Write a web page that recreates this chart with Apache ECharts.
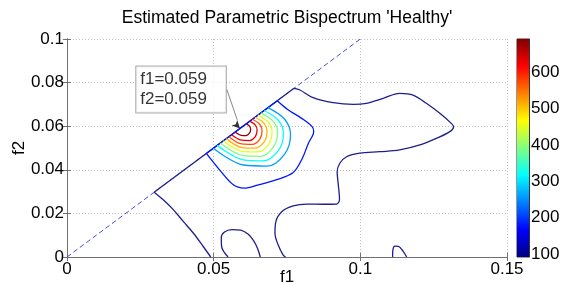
<!DOCTYPE html>
<html>
<head>
<meta charset="utf-8">
<script src="https://cdn.jsdelivr.net/npm/echarts@6/dist/echarts.min.js"></script>
<style>
  html, body { margin: 0; padding: 0; background: #fff; }
  #chart { width: 562px; height: 284px; }
</style>
</head>
<body>
<div id="chart"></div>
<script>
// axis ranges / ticks
const f1Range = [0, 0.15];
const f2Range = [0, 0.1];
const colorbarRange = [92, 692];
const colorbarTicks = [100, 200, 300, 400, 500, 600];

// peak marker
const peakF1 = 0.059;
const peakF2 = 0.059;

// diagonal f1 = f2
const diagLine = [[0, 0], [0.1, 0.1]];

// contour levels (outer -> inner)
const contourLevels = [100, 180, 260, 320, 390, 450, 510, 570, 630, 680];

// level 100 (navy)
const navyLeft = [[0.0297, 0.0297], [0.0329, 0.0261], [0.0363, 0.0216], [0.0397, 0.0162], [0.0431, 0.0109], [0.0465, 0.0047], [0.0490, 0]];
const navyDiag = [[0.0297, 0.0297], [0.0774, 0.0774]];
const navyRight = [
  [0.0774, 0.0774], [0.0794, 0.0766], [0.0839, 0.0731], [0.0907, 0.0708], [0.0976, 0.0700], [0.1021, 0.0705],
  [0.1078, 0.0728], [0.1134, 0.0751], [0.1180, 0.0743], [0.1225, 0.0705], [0.1271, 0.0659], [0.1310, 0.0613],
  [0.1318, 0.0598], [0.1305, 0.0575], [0.1259, 0.0544], [0.1203, 0.0514], [0.1134, 0.0491], [0.1066, 0.0483],
  [0.0998, 0.0476], [0.0953, 0.0460], [0.0930, 0.0430], [0.0921, 0.0391], [0.0925, 0.0330], [0.0929, 0.0265],
  [0.0919, 0.0243], [0.0873, 0.0242], [0.0817, 0.0243], [0.0771, 0.0234], [0.0732, 0.0208], [0.0712, 0.0162],
  [0.0709, 0.0109], [0.0720, 0.0055], [0.0737, 0.0009], [0.0745, 0]
];
const navyLoopA = [[0.0549, 0], [0.0527, 0.0049], [0.0526, 0.0090], [0.0537, 0.0115], [0.0562, 0.0126], [0.0592, 0.0123], [0.0617, 0.0105], [0.0636, 0.0075], [0.0650, 0.0038], [0.0659, 0]];
const navyLoopB = [[0.1110, 0], [0.1111, 0.0032], [0.1118, 0.0050], [0.1130, 0.0049], [0.1146, 0.0026], [0.1158, 0]];

// level 180 (blue)
const blueRing = [
  [0.0717, 0.0717], [0.0752, 0.0677], [0.0800, 0.0636], [0.0835, 0.0599], [0.0841, 0.0576], [0.0823, 0.0522],
  [0.0800, 0.0446], [0.0770, 0.0386], [0.0715, 0.0355], [0.0652, 0.0331], [0.0604, 0.0316], [0.0567, 0.0331],
  [0.0520, 0.0400], [0.0475, 0.0475]
];
const blueDiag = [[0.0475, 0.0475], [0.0717, 0.0717]];

// inner rings around the peak
const ring260 = [[0.0685, 0.0685], [0.0742, 0.0632], [0.0762, 0.0562], [0.0742, 0.0472], [0.0682, 0.0417], [0.0602, 0.0422], [0.0499, 0.0499]];
const ring320 = [[0.0672, 0.0672], [0.0721, 0.0626], [0.0738, 0.0566], [0.0721, 0.0489], [0.0669, 0.0441], [0.0601, 0.0446], [0.0512, 0.0512]];
const ring390 = [[0.0661, 0.0661], [0.0703, 0.0622], [0.0718, 0.0570], [0.0703, 0.0503], [0.0659, 0.0462], [0.0599, 0.0466], [0.0523, 0.0523]];
const ring450 = [[0.0651, 0.0651], [0.0687, 0.0617], [0.0699, 0.0573], [0.0687, 0.0516], [0.0649, 0.0482], [0.0598, 0.0485], [0.0533, 0.0533]];
const ring510 = [[0.0641, 0.0641], [0.0672, 0.0613], [0.0682, 0.0576], [0.0672, 0.0528], [0.0640, 0.0499], [0.0597, 0.0502], [0.0543, 0.0543]];
const ring570 = [[0.0632, 0.0632], [0.0657, 0.0609], [0.0665, 0.0579], [0.0657, 0.0540], [0.0631, 0.0517], [0.0596, 0.0519], [0.0552, 0.0552]];
const ring630 = [[0.0623, 0.0623], [0.0642, 0.0605], [0.0648, 0.0582], [0.0642, 0.0552], [0.0622, 0.0534], [0.0595, 0.0536], [0.0561, 0.0561]];
const ring680 = [[0.0611, 0.0611], [0.0622, 0.0600], [0.0626, 0.0586], [0.0622, 0.0568], [0.0610, 0.0557], [0.0594, 0.0558], [0.0573, 0.0573]];

const contours = [
  { level: contourLevels[0], path: navyLeft },
  { level: contourLevels[0], path: navyDiag, straight: true },
  { level: contourLevels[0], path: navyRight },
  { level: contourLevels[0], path: navyLoopA },
  { level: contourLevels[0], path: navyLoopB },
  { level: contourLevels[1], path: blueRing },
  { level: contourLevels[1], path: blueDiag, straight: true },
  { level: contourLevels[2], path: ring260 },
  { level: contourLevels[3], path: ring320 },
  { level: contourLevels[4], path: ring390 },
  { level: contourLevels[5], path: ring450 },
  { level: contourLevels[6], path: ring510 },
  { level: contourLevels[7], path: ring570 },
  { level: contourLevels[8], path: ring630 },
  { level: contourLevels[9], path: ring680 },
];

// matlab jet colormap
function jet(v) {
  const t = (v - colorbarRange[0]) / (colorbarRange[1] - colorbarRange[0]);
  const c = x => Math.round(255 * Math.max(0, Math.min(1, 1.5 - Math.abs(4 * t - x))));
  return 'rgb(' + c(3) + ',' + c(2) + ',' + c(1) + ')';
}

const FONT = 'Liberation Sans, Arial, sans-serif';
const chart = echarts.init(document.getElementById('chart'));

const gridTop = 39, gridBottom = 27;
const jetStops = [0, 0.125, 0.25, 0.375, 0.5, 0.625, 0.75, 0.875, 1].map(o => ({
  offset: o,
  color: jet(colorbarRange[0] + o * (colorbarRange[1] - colorbarRange[0]))
}));

const series = [
  {
    type: 'line',
    data: diagLine,
    showSymbol: false,
    silent: true,
    lineStyle: { color: '#4b4bd6', width: 1, type: [5, 3] },
    z: 1
  }
];
contours.forEach(c => {
  series.push({
    type: 'line',
    data: c.path,
    showSymbol: false,
    silent: true,
    smooth: c.straight ? false : 0.35,
    lineStyle: { color: c.level === contourLevels[0] ? '#1e1e8c' : jet(c.level), width: 1.3 },
    z: 2 + c.level / 1000
  });
});
series.push({
  type: 'scatter',
  data: [[peakF1, peakF2]],
  symbol: 'arrow',
  symbolSize: [6, 8],
  symbolRotate: -135,
  itemStyle: { color: '#000' },
  z: 10,
  label: {
    show: true,
    position: 'inside',
    formatter: p => 'f1=' + p.value[0].toFixed(3) + '\nf2=' + p.value[1].toFixed(3),
    align: 'left',
    fontFamily: FONT,
    fontSize: 17,
    lineHeight: 20,
    color: '#000',
    backgroundColor: '#fff',
    borderColor: '#999',
    borderWidth: 1,
    padding: [3, 19, 3, 4]
  },
  labelLayout: { dx: -101, dy: -36 },
  labelLine: { show: true, lineStyle: { color: '#888', width: 1 } }
});
series.push({
  type: 'bar',
  xAxisIndex: 2,
  yAxisIndex: 2,
  data: [colorbarRange[1]],
  barWidth: '100%',
  silent: true,
  itemStyle: {
    color: new echarts.graphic.LinearGradient(0, 284 - gridBottom, 0, gridTop, jetStops, true)
  }
});

const tickLabel = { fontFamily: FONT, fontSize: 17, color: '#000' };

chart.setOption({
  animation: false,
  backgroundColor: '#fff',
  title: {
    text: "Estimated Parametric Bispectrum 'Healthy'",
    left: 287,
    textAlign: 'center',
    top: 9,
    padding: 0,
    textStyle: { fontFamily: FONT, fontSize: 17.5, fontWeight: 'normal', color: '#000' }
  },
  grid: [
    { left: 67, right: 55, top: gridTop, bottom: gridBottom, outerBoundsMode: 'none', containLabel: false },
    { left: 517, width: 12, top: gridTop, bottom: gridBottom, outerBoundsMode: 'none', containLabel: false, show: true, borderColor: '#333', borderWidth: 1 }
  ],
  xAxis: [
    {
      type: 'value', gridIndex: 0, min: f1Range[0], max: f1Range[1], interval: 0.05,
      name: 'f1', nameLocation: 'middle', nameGap: 12, nameMoveOverlap: false,
      nameTextStyle: { fontFamily: FONT, fontSize: 17, color: '#000' },
      axisLine: { lineStyle: { color: '#707070' } },
      axisTick: { inside: true, length: 4, lineStyle: { color: '#707070' } },
      axisLabel: Object.assign({ margin: 4 }, tickLabel),
      splitLine: { show: true, lineStyle: { color: '#c0c0c0', type: [1, 2] } }
    },
    {
      type: 'value', gridIndex: 0, position: 'top', min: f1Range[0], max: f1Range[1], interval: 0.05,
      axisLine: { show: true, lineStyle: { color: '#707070' } },
      axisTick: { show: true, inside: true, length: 4, lineStyle: { color: '#707070' } },
      axisLabel: { show: false },
      splitLine: { show: false }
    },
    { type: 'category', gridIndex: 1, data: [''], show: false }
  ],
  yAxis: [
    {
      type: 'value', gridIndex: 0, min: f2Range[0], max: f2Range[1], interval: 0.02,
      name: 'f2', nameLocation: 'middle', nameGap: 39, nameMoveOverlap: false,
      nameTextStyle: { fontFamily: FONT, fontSize: 17, color: '#000' },
      axisLine: { show: true, lineStyle: { color: '#707070' } },
      axisTick: { show: true, inside: true, length: 4, lineStyle: { color: '#707070' } },
      axisLabel: Object.assign({ margin: 3 }, tickLabel),
      splitLine: { show: true, lineStyle: { color: '#c0c0c0', type: [1, 2] } }
    },
    {
      type: 'value', gridIndex: 0, position: 'right', min: f2Range[0], max: f2Range[1], interval: 0.02,
      axisLine: { show: true, lineStyle: { color: '#707070' } },
      axisTick: { show: true, inside: true, length: 4, lineStyle: { color: '#707070' } },
      axisLabel: { show: false },
      splitLine: { show: false }
    },
    {
      type: 'value', gridIndex: 1, position: 'right', min: colorbarRange[0], max: colorbarRange[1],
      axisLine: { show: true, lineStyle: { color: '#333' } },
      axisTick: { show: true, inside: true, length: 3, customValues: colorbarTicks, lineStyle: { color: '#333' } },
      axisLabel: Object.assign({ margin: 2, customValues: colorbarTicks }, tickLabel),
      splitLine: { show: false }
    }
  ],
  series: series
});
</script>
</body>
</html>
